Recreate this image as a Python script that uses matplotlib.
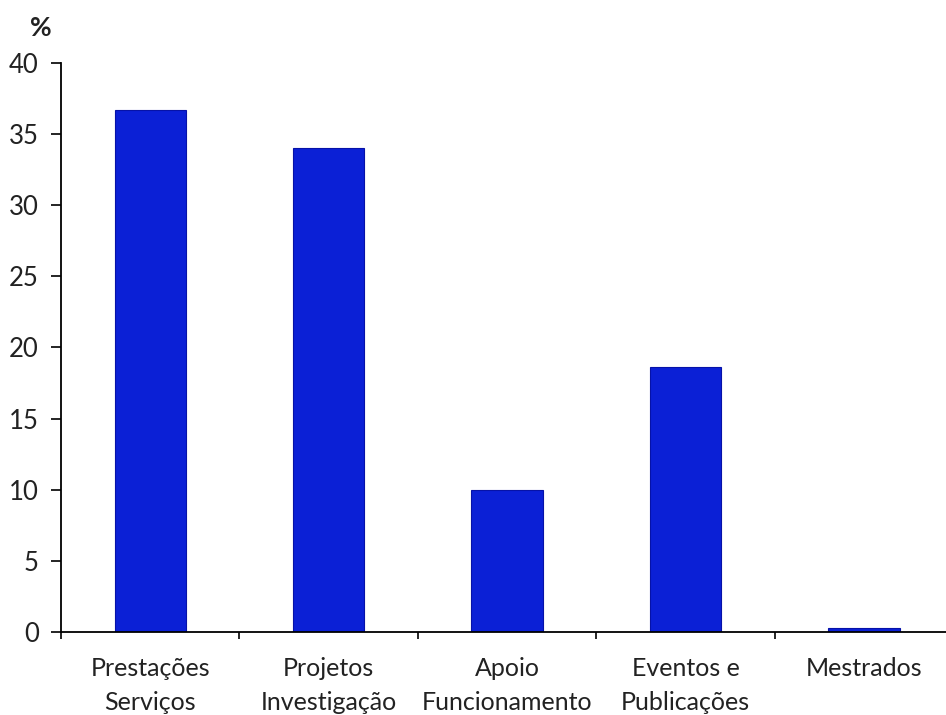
import matplotlib
matplotlib.use("Agg")
import matplotlib.pyplot as plt
import numpy as np

categories = ["Prestações\nServiços", "Projetos\nInvestigação", "Apoio\nFuncionamento",
              "Eventos e\nPublicações", "Mestrados"]
values = [36.7, 34.0, 10.0, 18.6, 0.3]
yticks = [0, 5, 10, 15, 20, 25, 30, 35, 40]

plt.rcParams["font.family"] = ["Lato", "DejaVu Sans"]

fig = plt.figure(figsize=(9.46, 7.15), dpi=100)
ax = fig.add_axes([0.0645, 0.116, 0.943, 0.796])

x = np.arange(len(categories))
ax.bar(x, values, width=0.40, color="#0b20d6", edgecolor="#0612a8", linewidth=0.8, zorder=2)

ax.set_xlim(-0.5, len(categories) - 0.5)
ax.set_ylim(0, 40)
ax.set_yticks(yticks)
ax.set_yticklabels([str(v) for v in yticks], fontsize=18.5, color="#222222")

# category labels centred under bars, ticks on the boundaries
ax.set_xticks(np.arange(len(categories) + 1) - 0.5)
ax.set_xticklabels([])
ax.set_xticks(x, minor=True)
ax.set_xticklabels(categories, minor=True, fontsize=18, color="#222222", linespacing=1.55)
ax.tick_params(axis="x", which="minor", length=0, pad=18)
ax.tick_params(axis="x", which="major", length=5, width=1.2, direction="out")
ax.tick_params(axis="y", length=7, width=1.2, direction="out", pad=9)

for s in ["top", "right"]:
    ax.spines[s].set_visible(False)
ax.spines["left"].set_linewidth(1.3)
ax.spines["bottom"].set_linewidth(1.3)

fig.text(41 / 946, 1 - 28 / 715, "%", fontsize=19, fontweight="bold",
         ha="center", va="center", color="#222222")

fig.savefig("out.png", dpi=100)
